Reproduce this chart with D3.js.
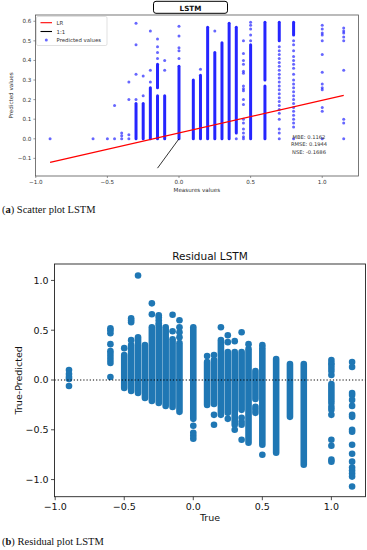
<!DOCTYPE html>
<html><head><meta charset="utf-8">
<script src="https://cdn.jsdelivr.net/npm/d3@7"></script>
<style>body{margin:0;background:#fff}svg{display:block}</style>
</head><body>
<svg id="c" width="367" height="550"></svg>
<script>
// ---------- Scatter plot (top) ----------
const topCols = [-0.9,-0.6,-0.5,-0.45,-0.4,-0.35,-0.3,-0.25,-0.2,-0.15,-0.1,0.0,0.1,0.15,0.2,0.25,0.3,0.35,0.4,0.45,0.5,0.6,0.7,0.8,1.0,1.15];
const topRuns = [[],[],[],[],[],[],[[0,0.18]],[[0,0.18]],[[0,0.26]],[[0,0.22],[0.26,0.38]],[[0,0.22]],[[0,0.37]],[[0,0.30]],[[0,0.325]],[[0,0.57]],[[0,0.44]],[[0,0.49]],[[0,0.59]],[[0.03,0.57]],[],[[0,0.48]],[[0,0.27],[0.30,0.595]],[[0.5,0.595]],[[0.53,0.595]],[],[]];
const topPts = [[0],[0],[0],[0,0.17],[0,0.015,0.03],[0,0.02,0.2,0.29],[0.2,0.33,0.48,0.59],[0.22,0.32],[0.29,0.35,0.55],[0.41,0.44,0.47,0.51],[0.35,0.40],[0.41,0.45,0.465,0.525,0.575],[],[0.355],[],[0.55],[],[],[0],
 [0,0.01,0.03,0.05,0.08,0.1,0.175,0.2,0.245,0.255,0.27,0.335,0.345,0.38,0.40,0.435,0.5],
 [0.5,0.53,0.56,0.58,0.595],[],
 [0,0.03,0.05,0.1,0.13,0.15,0.17,0.19,0.21,0.23,0.25,0.27,0.29,0.31,0.33,0.35,0.37,0.39,0.41,0.43,0.45,0.47],
 [0,0.06,0.08,0.1,0.12,0.14,0.16,0.18,0.2,0.22,0.24,0.26,0.28,0.3,0.33,0.36,0.38,0.4,0.42,0.45,0.48,0.5],
 [0,0.14,0.16,0.25,0.26,0.28,0.34,0.43,0.5,0.53,0.54,0.56,0.58],
 [0,0.08,0.1,0.35,0.5,0.52,0.54,0.55,0.565]];
const lrX = [-0.9, 1.15];
const lrY = [-0.121, 0.222];
const oneX = [-0.15, 0.0];
const oneY = [-0.15, 0.0];
const topXTicks = [-1.0,-0.5,0.0,0.5,1.0];
const topYTicks = [-0.1,0.0,0.1,0.2,0.3,0.4,0.5,0.6];
const stats = ["MBE: 0.1162","RMSE: 0.1944","NSE: -0.1686"];

// ---------- Residual plot (bottom) ----------
const botCols = [-0.9,-0.6,-0.5,-0.45,-0.4,-0.35,-0.3,-0.25,-0.2,-0.15,-0.1,0.0,0.1,0.15,0.2,0.25,0.3,0.35,0.4,0.45,0.5,0.6,0.7,0.8,1.0,1.15];
const botRuns = [[],[],[[-0.08,0.25]],[[-0.11,0.35]],[[-0.13,0.43]],[[-0.18,0.35]],[[-0.21,0.53]],[[-0.23,0.55]],[[-0.26,0.53]],[[-0.27,0.41]],[[-0.32,0.37]],[[-0.39,0.53]],[[-0.25,0.18]],[[-0.24,0.2]],[[-0.35,0.40]],[[-0.33,0.28]],[[-0.45,0.28]],[[-0.3,0.28]],[[-0.63,0.31]],[[-0.19,0.09]],[[-0.65,0.32]],[[-0.73,0.21]],[[-0.37,0.16]],[[-0.85,0.16]],[[-0.2,-0.04]],[]];
const botPts = [[0.10,0.06,0.03,0.01,-0.06],[0.52,0.5,0.47,0.36,0.29,0.26,0.23,0.2,0.17,0.03],[0.32],[0.4,0.58,0.6,0.62],[1.05],[],[0.66,0.77],[0.57,0.6,0.63,0.65],[],[0.49,0.655],[0.43,0.48,0.53,0.6],[-0.46,-0.53,-0.56,-0.59],[0.24],[0.25,-0.35,-0.45],[0.53],[0.38,0.45,-0.39],[0.39,-0.5],[0.48,-0.38,-0.42,-0.45,-0.6],[0.36],[-0.27,-0.3,-0.33],[0.35,-0.75],[],[],[],
 [0.2,0.17,0.15,0.12,0.09,0.05,-0.23,-0.27,-0.3,-0.35,-0.6,-0.66,-0.8,-0.82],
 [0.18,0.13,-0.13,-0.15,-0.2,-0.26,-0.35,-0.37,-0.5,-0.52,-0.65,-0.74,-0.82,-0.88,-0.91,-0.94,-0.97,-1.07]];
const botXTicks = [-1.0,-0.5,0.0,0.5,1.0];
const botYTicks = [-1.0,-0.5,0.0,0.5,1.0];

const svg = d3.select("#c");
const fmt = v => d3.format(".1f")(v).replace("-", "\u2212");
const SANS = "DejaVu Sans";

// ===== TOP =====
const T = {l:35.4, r:358.4, t:15, b:176};
const xT = d3.scaleLinear().domain([-1.0025,1.2525]).range([T.l,T.r]);
const yT = d3.scaleLinear().domain([-0.19,0.632]).range([T.b,T.t]);
const gT = svg.append("g");
const blue = "#0000ff";
topCols.forEach((x,i)=>{
  topRuns[i].forEach(r=>{
    gT.append("line").attr("x1",xT(x)).attr("x2",xT(x)).attr("y1",yT(r[0])).attr("y2",yT(r[1]))
      .attr("stroke",blue).attr("stroke-width",3).attr("stroke-linecap","round").attr("opacity",0.85);
  });
  gT.selectAll(null).data(topPts[i]).enter().append("circle")
    .attr("cx",xT(x)).attr("cy",d=>yT(d)).attr("r",1.5).attr("fill",blue).attr("opacity",0.6);
});
const line = d3.line().x(d=>xT(d[0])).y(d=>yT(d[1]));
gT.append("path").attr("d",line(d3.zip(lrX,lrY))).attr("stroke","#ff0000").attr("stroke-width",1.3).attr("fill","none");
gT.append("path").attr("d",line(d3.zip(oneX,oneY))).attr("stroke","#000").attr("stroke-width",0.8).attr("fill","none");
gT.append("rect").attr("x",T.l).attr("y",T.t).attr("width",T.r-T.l).attr("height",T.b-T.t).attr("fill","none").attr("stroke","#555").attr("stroke-width",0.8);
topXTicks.forEach(v=>{
  gT.append("line").attr("x1",xT(v)).attr("x2",xT(v)).attr("y1",T.b).attr("y2",T.b+2).attr("stroke","#555").attr("stroke-width",0.6);
  gT.append("text").attr("x",xT(v)).attr("y",T.b+8).attr("text-anchor","middle").attr("font-family",SANS).attr("font-size",5.6).attr("fill","#333").text(fmt(v));
});
topYTicks.forEach(v=>{
  gT.append("line").attr("x1",T.l-2).attr("x2",T.l).attr("y1",yT(v)).attr("y2",yT(v)).attr("stroke","#555").attr("stroke-width",0.6);
  gT.append("text").attr("x",T.l-4).attr("y",yT(v)+2).attr("text-anchor","end").attr("font-family",SANS).attr("font-size",5.6).attr("fill","#333").text(fmt(v));
});
gT.append("text").attr("x",(T.l+T.r)/2).attr("y",192).attr("text-anchor","middle").attr("font-family",SANS).attr("font-size",5.6).attr("fill","#333").text("Measures values");
gT.append("text").attr("transform",`translate(13,${(T.t+T.b)/2}) rotate(-90)`).attr("text-anchor","middle").attr("font-family",SANS).attr("font-size",5.6).attr("fill","#333").text("Predicted values");
// stats
stats.forEach((s,i)=>{
  gT.append("text").attr("x",309).attr("y",138.5+i*7.6).attr("text-anchor","middle").attr("font-family",SANS).attr("font-size",5.2).attr("fill","#333").text(s);
});
// legend
const lg = gT.append("g");
lg.append("rect").attr("x",36.5).attr("y",16.5).attr("width",70.5).attr("height",29).attr("rx",1.5).attr("fill","#fff").attr("fill-opacity",0.85).attr("stroke","#ccc").attr("stroke-width",0.6);
lg.append("line").attr("x1",40.5).attr("x2",52).attr("y1",22.7).attr("y2",22.7).attr("stroke","#ff0000").attr("stroke-width",1.1);
lg.append("line").attr("x1",40.5).attr("x2",52).attr("y1",31.5).attr("y2",31.5).attr("stroke","#000").attr("stroke-width",1.1);
lg.append("circle").attr("cx",46.3).attr("cy",40).attr("r",1.5).attr("fill",blue).attr("opacity",0.6);
[["LR",22.7],["1:1",31.5],["Predicted values",40]].forEach(e=>{
  lg.append("text").attr("x",56.5).attr("y",e[1]+2).attr("font-family",SANS).attr("font-size",5.4).attr("fill","#333").text(e[0]);
});
// title box
gT.append("rect").attr("x",153.5).attr("y",1.3).attr("width",74).attr("height",12).attr("rx",2.5).attr("fill","#fff").attr("stroke","#000").attr("stroke-width",1);
gT.append("text").attr("x",190.5).attr("y",10.5).attr("text-anchor","middle").attr("font-family",SANS).attr("font-weight","bold").attr("font-size",7.2).attr("fill","#111").text("LSTM");
// caption a
const capA = svg.append("text").attr("x",2).attr("y",212.5).attr("font-family","Liberation Serif").attr("font-size",10.5).attr("fill","#111");
capA.append("tspan").text("(");
capA.append("tspan").attr("font-weight","bold").text("a");
capA.append("tspan").text(") Scatter plot LSTM");

// ===== BOTTOM =====
const B = {l:54.5, r:365.5, t:264, b:496.7};
const xB = d3.scaleLinear().domain([-1.005,1.247]).range([B.l,B.r]);
const yB = d3.scaleLinear().domain([-1.172,1.165]).range([B.b,B.t]);
const gB = svg.append("g");
const c10 = "#1f77b4";
botCols.forEach((x,i)=>{
  botRuns[i].forEach(r=>{
    gB.append("line").attr("x1",xB(x)).attr("x2",xB(x)).attr("y1",yB(r[0])).attr("y2",yB(r[1]))
      .attr("stroke",c10).attr("stroke-width",6.6).attr("stroke-linecap","round");
  });
  gB.selectAll(null).data(botPts[i]).enter().append("circle")
    .attr("cx",xB(x)).attr("cy",d=>yB(d)).attr("r",3.3).attr("fill",c10);
});
gB.append("line").attr("x1",B.l).attr("x2",B.r).attr("y1",yB(0)).attr("y2",yB(0)).attr("stroke","#000").attr("stroke-width",1).attr("stroke-dasharray","1.2,2");
gB.append("rect").attr("x",B.l).attr("y",B.t).attr("width",B.r-B.l).attr("height",B.b-B.t).attr("fill","none").attr("stroke","#222").attr("stroke-width",0.9);
botXTicks.forEach(v=>{
  gB.append("line").attr("x1",xB(v)).attr("x2",xB(v)).attr("y1",B.b).attr("y2",B.b+3.5).attr("stroke","#222").attr("stroke-width",0.8);
  gB.append("text").attr("x",xB(v)).attr("y",B.b+13.5).attr("text-anchor","middle").attr("font-family",SANS).attr("font-size",9.5).attr("fill","#111").text(fmt(v));
});
botYTicks.forEach(v=>{
  gB.append("line").attr("x1",B.l-3.5).attr("x2",B.l).attr("y1",yB(v)).attr("y2",yB(v)).attr("stroke","#222").attr("stroke-width",0.8);
  gB.append("text").attr("x",B.l-6).attr("y",yB(v)+3.4).attr("text-anchor","end").attr("font-family",SANS).attr("font-size",9.5).attr("fill","#111").text(fmt(v));
});
gB.append("text").attr("x",(B.l+B.r)/2).attr("y",521).attr("text-anchor","middle").attr("font-family",SANS).attr("font-size",9.5).attr("fill","#111").text("True");
gB.append("text").attr("transform",`translate(22,${(B.t+B.b)/2}) rotate(-90)`).attr("text-anchor","middle").attr("font-family",SANS).attr("font-size",9.5).attr("fill","#111").text("True-Predicted");
gB.append("text").attr("x",(B.l+B.r)/2).attr("y",259.5).attr("text-anchor","middle").attr("font-family",SANS).attr("font-size",10.5).attr("fill","#111").text("Residual LSTM");
const capB = svg.append("text").attr("x",2).attr("y",545).attr("font-family","Liberation Serif").attr("font-size",10.5).attr("fill","#111");
capB.append("tspan").text("(");
capB.append("tspan").attr("font-weight","bold").text("b");
capB.append("tspan").text(") Residual plot LSTM");
</script>
</body></html>
